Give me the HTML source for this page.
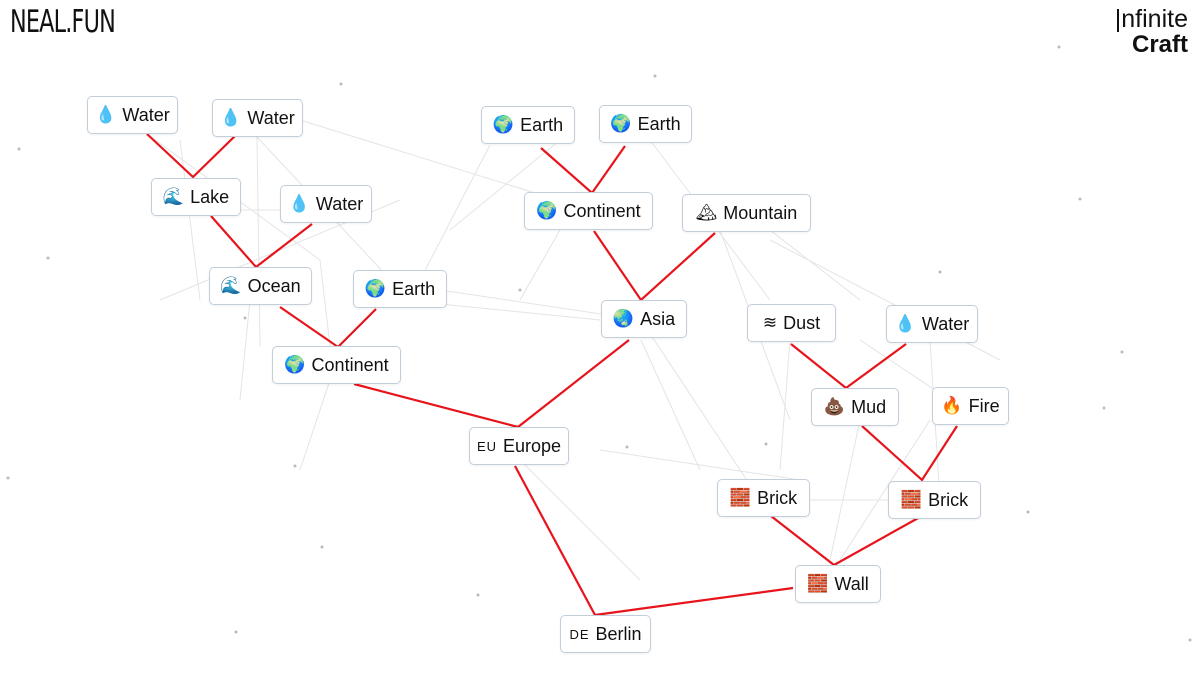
<!DOCTYPE html>
<html><head><meta charset="utf-8"><style>
body{margin:0;width:1200px;height:675px;overflow:hidden;background:#fff;font-family:"Liberation Sans","DejaVu Sans",sans-serif;position:relative}
.n{position:absolute;box-sizing:border-box;height:38px;border:1px solid #c3cedb;border-radius:5px;background:#fff;display:flex;align-items:center;justify-content:center;font-size:18px;color:#111;gap:6px;white-space:nowrap;box-shadow:0 1px 2px rgba(0,0,0,.06)}
.e{font-size:17px;font-family:"DejaVu Sans",sans-serif}
.c{font-size:13px;letter-spacing:1px}
svg{position:absolute;left:0;top:0}
</style></head><body>
<svg width="1200" height="675">
<g stroke="#e4e4e4" stroke-width="1" fill="none">
<path d="M147 134L320 260M257 137L260 346M257 137L400 290M300 120L590 210M160 300L400 200M320 260L330 346M440 290L641 320M450 230L560 140M490 145L420 280M650 140L770 300M720 230L790 420M770 230L860 300M641 320L760 500M560 230L520 300M641 340L700 470M790 340L780 470M930 340L940 500M860 420L830 560M760 500L920 500M930 420L840 560M600 450L800 480M330 380L300 470M520 460L640 580M180 140L200 300M770 240L1000 360M860 340L980 420M400 300L600 320M180 210L360 210M250 300L240 400"/>
</g>
<g fill="#bbb">
<circle cx="19" cy="149" r="1.5"/><circle cx="341" cy="84" r="1.5"/><circle cx="655" cy="76" r="1.5"/><circle cx="1059" cy="47" r="1.5"/><circle cx="1080" cy="199" r="1.5"/><circle cx="48" cy="258" r="1.5"/><circle cx="8" cy="478" r="1.5"/><circle cx="322" cy="547" r="1.5"/><circle cx="236" cy="632" r="1.5"/><circle cx="627" cy="447" r="1.5"/><circle cx="520" cy="290" r="1.5"/><circle cx="295" cy="466" r="1.5"/><circle cx="1122" cy="352" r="1.5"/><circle cx="1028" cy="512" r="1.5"/><circle cx="1190" cy="640" r="1.5"/><circle cx="766" cy="444" r="1.5"/><circle cx="478" cy="595" r="1.5"/><circle cx="940" cy="272" r="1.5"/><circle cx="245" cy="318" r="1.5"/><circle cx="1104" cy="408" r="1.5"/>
</g>
<g stroke="#e8141c" stroke-width="2.2" fill="none">
<path d="M147 134L193 177L235 136M211 216L256 267L312 224M280 307L338 347L376 309M541 148L592 193L625 146M594 231L641 300L715 233M354 384L518 427L629 340M791 344L846 388L906 344M862 426L922 480L957 426M771 516L834 565L920 517M515 466L595 615L793 588"/>
</g>
</svg>
<div style="position:absolute;left:10px;top:4px;font-size:31px;letter-spacing:-1px;font-family:'DejaVu Sans Condensed','Liberation Sans Narrow',sans-serif;transform:scaleX(.8);transform-origin:left;font-weight:300;color:#111">NEAL.FUN</div>
<div style="position:absolute;right:12px;top:6px;text-align:right;color:#111;line-height:26px">
<div style="font-size:25px;font-weight:300">|nfinite</div><div style="font-size:24px;font-weight:bold">Craft</div></div>
<div class="n" style="left:87px;top:96px;width:91px"><span class="e">💧</span>Water</div>
<div class="n" style="left:212px;top:99px;width:91px"><span class="e">💧</span>Water</div>
<div class="n" style="left:151px;top:178px;width:90px"><span class="e">🌊</span>Lake</div>
<div class="n" style="left:280px;top:185px;width:92px"><span class="e">💧</span>Water</div>
<div class="n" style="left:209px;top:267px;width:103px"><span class="e">🌊</span>Ocean</div>
<div class="n" style="left:353px;top:270px;width:94px"><span class="e">🌍</span>Earth</div>
<div class="n" style="left:272px;top:346px;width:129px"><span class="e">🌍</span>Continent</div>
<div class="n" style="left:481px;top:106px;width:94px"><span class="e">🌍</span>Earth</div>
<div class="n" style="left:599px;top:105px;width:93px"><span class="e">🌍</span>Earth</div>
<div class="n" style="left:524px;top:192px;width:129px"><span class="e">🌍</span>Continent</div>
<div class="n" style="left:682px;top:194px;width:129px"><span class="e">🏔</span>Mountain</div>
<div class="n" style="left:601px;top:300px;width:86px"><span class="e">🌏</span>Asia</div>
<div class="n" style="left:747px;top:304px;width:89px"><span class="e">≋</span>Dust</div>
<div class="n" style="left:886px;top:305px;width:92px"><span class="e">💧</span>Water</div>
<div class="n" style="left:811px;top:388px;width:88px"><span class="e">💩</span>Mud</div>
<div class="n" style="left:932px;top:387px;width:77px"><span class="e">🔥</span>Fire</div>
<div class="n" style="left:469px;top:427px;width:100px"><span class="c">EU</span>Europe</div>
<div class="n" style="left:717px;top:479px;width:93px"><span class="e">🧱</span>Brick</div>
<div class="n" style="left:888px;top:481px;width:93px"><span class="e">🧱</span>Brick</div>
<div class="n" style="left:795px;top:565px;width:86px"><span class="e">🧱</span>Wall</div>
<div class="n" style="left:560px;top:615px;width:91px"><span class="c">DE</span>Berlin</div>
</body></html>
